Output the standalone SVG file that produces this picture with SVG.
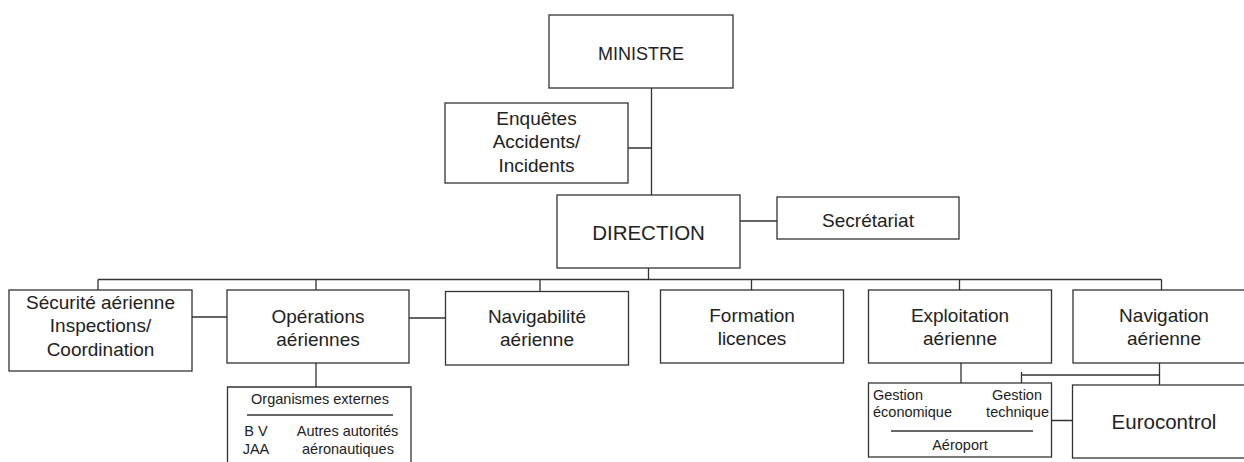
<svg xmlns="http://www.w3.org/2000/svg" width="1244" height="462" viewBox="0 0 1244 462">
<style>
.box{fill:#fff;stroke:#333;stroke-width:1.3}
.ln{fill:none;stroke:#333;stroke-width:1.3}
text{font-family:"Liberation Sans",Arial,sans-serif;fill:#222;text-anchor:middle}
.t{font-size:19px}
.s{font-size:14.5px}
text.st{text-anchor:start}
text.en{text-anchor:end}
</style>
<rect width="1244" height="462" fill="#fff"/>
<g id="connectors">
<path class="ln" d="M651.5 88V195M628 148H651.5M740 221H777"/>
<path class="ln" d="M648.5 268V279.5M98 279.5H1161.5M98 279.5V290M316 279.5V290M540 279.5V291.5M751.5 279.5V290M959.5 279.5V290M1161.5 279.5V290"/>
<path class="ln" d="M192 317H227M409 318H445"/>
<path class="ln" d="M316 363V387M961 363V383M1159.5 363V385M1021.5 375H1159.5M1021.5 372V383M1051.5 420.5H1072.5"/>
</g>
<g id="ministre"><rect class="box" x="549" y="15" width="184" height="73"/><text x="641" y="60" font-size="18">MINISTRE</text></g>
<g id="enquetes"><rect class="box" x="445" y="103" width="183" height="80"/><text class="t" x="536.5" y="125">Enquêtes</text><text class="t" x="536.5" y="148">Accidents/</text><text class="t" x="536.5" y="171.5">Incidents</text></g>
<g id="direction"><rect class="box" x="557" y="195" width="183" height="73"/><text x="648.5" y="240" font-size="20.5">DIRECTION</text></g>
<g id="secretariat"><rect class="box" x="777" y="197" width="182" height="42"/><text class="t" x="868" y="226.5">Secrétariat</text></g>
<g id="securite"><rect class="box" x="9" y="290" width="183" height="81"/><text class="t" x="100.5" y="309">Sécurité aérienne</text><text class="t" x="100.5" y="332">Inspections/</text><text class="t" x="100.5" y="356">Coordination</text></g>
<g id="operations"><rect class="box" x="227" y="290" width="182" height="73"/><text class="t" x="318" y="323">Opérations</text><text class="t" x="318" y="345.5">aériennes</text></g>
<g id="navigabilite"><rect class="box" x="445.5" y="291.5" width="183" height="73.5"/><text class="t" x="537" y="323">Navigabilité</text><text class="t" x="537" y="346">aérienne</text></g>
<g id="formation"><rect class="box" x="660.5" y="290" width="183" height="73"/><text class="t" x="752" y="322">Formation</text><text class="t" x="752" y="345">licences</text></g>
<g id="exploitation"><rect class="box" x="868.5" y="290" width="183" height="73"/><text class="t" x="960" y="322">Exploitation</text><text class="t" x="960" y="345">aérienne</text></g>
<g id="navigation"><rect class="box" x="1073" y="290" width="190" height="73"/><text class="t" x="1164" y="322">Navigation</text><text class="t" x="1164" y="345">aérienne</text></g>
<g id="organismes"><path class="ln" d="M227.5 470V387H411V470"/><path class="ln" d="M247 415H393"/><text class="s" x="320" y="404">Organismes externes</text><text class="s" x="256" y="436">B V</text><text class="s" x="256" y="454">JAA</text><text class="s" x="347.5" y="436">Autres autorités</text><text class="s" x="348" y="454">aéronautiques</text></g>
<g id="aeroport"><rect class="box" x="868.5" y="383" width="183" height="74"/><path class="ln" d="M891 431H1033"/><text class="s st" x="873" y="400">Gestion</text><text class="s st" x="873" y="417">économique</text><text class="s en" x="1042" y="400">Gestion</text><text class="s en" x="1049" y="417">technique</text><text class="s" x="960" y="450">Aéroport</text></g>
<g id="eurocontrol"><rect class="box" x="1072.5" y="385" width="190" height="73"/><text x="1164" y="428.5" font-size="20.5">Eurocontrol</text></g>
</svg>
